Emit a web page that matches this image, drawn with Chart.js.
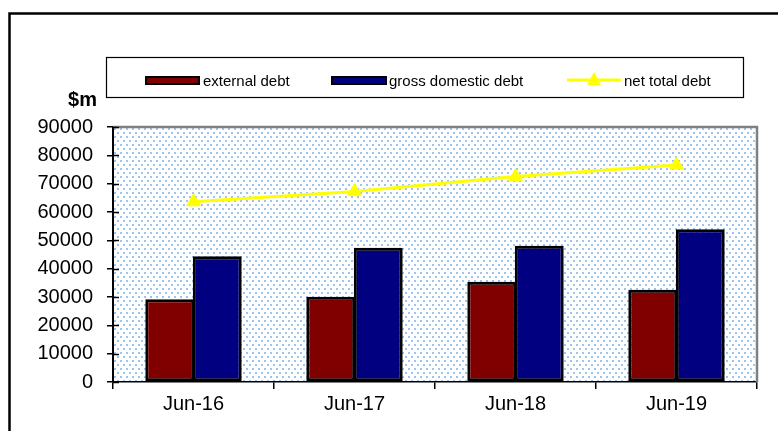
<!DOCTYPE html>
<html>
<head>
<meta charset="utf-8">
<script src="https://cdn.jsdelivr.net/npm/chart.js@4/dist/chart.umd.min.js"></script>
<style>
  html, body { margin: 0; padding: 0; background: #fff; }
  #wrap { width: 778px; height: 431px; position: relative; }
</style>
</head>
<body>
<div id="wrap"><canvas id="c" width="778" height="431"></canvas></div>
<script>
// ---- data ----
const categories = ["Jun-16", "Jun-17", "Jun-18", "Jun-19"];
const externalDebt = [29200, 30100, 35400, 32600];
const grossDomesticDebt = [44400, 47400, 48100, 53900];
const netTotalDebt = [63600, 67200, 72500, 76600];
const seriesLabels = ["external debt", "gross domestic debt", "net total debt"];
const yTickMin = 0, yTickMax = 90000, yTickStep = 10000;
const yAxisTitle = "$m";

const FONT = '"Liberation Sans", Arial, sans-serif';

function makePattern(ctx) {
  const t = document.createElement('canvas');
  t.width = 6; t.height = 8;
  const g = t.getContext('2d');
  g.fillStyle = '#ffffff';
  g.fillRect(0, 0, 6, 8);
  g.fillStyle = '#9dc3ef';
  g.fillRect(0, 0, 2, 2);
  g.fillRect(3, 4, 2, 2);
  return ctx.createPattern(t, 'repeat');
}

const decorPlugin = {
  id: 'decor',
  beforeDraw(chart) {
    const { ctx, chartArea: a } = chart;
    ctx.save();
    ctx.fillStyle = '#ffffff';
    ctx.fillRect(0, 0, chart.width, chart.height);
    ctx.fillStyle = makePattern(ctx);
    ctx.fillRect(a.left, a.top, a.right - a.left, a.bottom - a.top);
    ctx.restore();
  },
  afterDraw(chart) {
    const { ctx, chartArea: a } = chart;
    const y = chart.scales.y;
    ctx.save();
    // gray plot border (top & right)
    ctx.strokeStyle = '#808080';
    ctx.lineWidth = 2.5;
    ctx.beginPath();
    ctx.moveTo(a.left, a.top);
    ctx.lineTo(a.right, a.top);
    ctx.lineTo(a.right, a.bottom);
    ctx.stroke();
    // inner tick parts on y axis
    ctx.strokeStyle = '#000';
    ctx.lineWidth = 1.5;
    y.ticks.forEach(t => {
      const py = Math.round(y.getPixelForValue(t.value)) + 0.5;
      ctx.beginPath();
      ctx.moveTo(a.left, py);
      ctx.lineTo(a.left + 6, py);
      ctx.stroke();
    });
    // y axis title
    ctx.fillStyle = '#000';
    ctx.font = 'bold 20px ' + FONT;
    ctx.textAlign = 'right';
    ctx.textBaseline = 'alphabetic';
    ctx.fillText(yAxisTitle, 97, 106);

    // legend box
    ctx.strokeStyle = '#000';
    ctx.lineWidth = 1.2;
    ctx.strokeRect(106.5, 57.5, 637, 40);
    const ds = chart.data.datasets;
    const items = [
      { idx: 1, x0: 145, x1: 200, tx: 203 },
      { idx: 2, x0: 331, x1: 387, tx: 389 },
      { idx: 0, x0: 567, x1: 621, tx: 624 }
    ];
    ctx.font = '15px ' + FONT;
    ctx.textAlign = 'left';
    ctx.textBaseline = 'alphabetic';
    items.forEach(it => {
      const d = ds[it.idx];
      if (d.type === 'line') {
        ctx.strokeStyle = d.borderColor;
        ctx.lineWidth = 3;
        ctx.beginPath();
        ctx.moveTo(it.x0, 80);
        ctx.lineTo(it.x1, 80);
        ctx.stroke();
        const cx = (it.x0 + it.x1) / 2;
        ctx.fillStyle = d.borderColor;
        ctx.beginPath();
        ctx.moveTo(cx, 72);
        ctx.lineTo(cx + 7, 85);
        ctx.lineTo(cx - 7, 85);
        ctx.closePath();
        ctx.fill();
      } else {
        ctx.fillStyle = '#000';
        ctx.fillRect(it.x0, 76, it.x1 - it.x0, 9);
        ctx.fillStyle = d.backgroundColor;
        ctx.fillRect(it.x0 + 2, 78, it.x1 - it.x0 - 4, 5);
      }
      ctx.fillStyle = '#000';
      ctx.fillText(d.label, it.tx, 85.5);
    });

    // outer frame (left & top)
    ctx.strokeStyle = '#000';
    ctx.lineWidth = 2.5;
    ctx.beginPath();
    ctx.moveTo(9.5, chart.height + 5);
    ctx.lineTo(9.5, 13.5);
    ctx.lineTo(chart.width + 5, 13.5);
    ctx.stroke();
    ctx.restore();
  }
};

new Chart(document.getElementById('c'), {
  data: {
    labels: categories,
    datasets: [
      {
        type: 'line', label: seriesLabels[2], data: netTotalDebt, order: 0,
        borderColor: '#ffff00', backgroundColor: '#ffff00', borderWidth: 3,
        pointStyle: 'triangle', pointRadius: 8, pointBorderWidth: 1,
        pointBackgroundColor: '#ffff00', pointBorderColor: '#ffff00', tension: 0
      },
      {
        type: 'bar', label: seriesLabels[0], data: externalDebt, order: 1,
        backgroundColor: '#800000', borderColor: '#000000', borderWidth: 3,
        borderSkipped: false, categoryPercentage: 0.59, barPercentage: 1.03
      },
      {
        type: 'bar', label: seriesLabels[1], data: grossDomesticDebt, order: 1,
        backgroundColor: '#000080', borderColor: '#000000', borderWidth: 3,
        borderSkipped: false, categoryPercentage: 0.59, barPercentage: 1.03
      }
    ]
  },
  options: {
    responsive: false,
    devicePixelRatio: 1,
    animation: false,
    layout: { padding: { top: 127, right: 21, bottom: 0, left: 0 } },
    plugins: { legend: { display: false }, tooltip: { enabled: false } },
    scales: {
      x: {
        offset: true,
        grid: { display: true, drawOnChartArea: false, drawTicks: true, tickLength: 7, color: '#000', lineWidth: 1.5, offset: true },
        border: { display: true, color: '#000', width: 1.5 },
        ticks: { color: '#000', font: { family: FONT, size: 20 }, padding: 3, maxRotation: 0 },
        afterFit: s => { s.height = 49; }
      },
      y: {
        min: yTickMin, max: yTickMax,
        grid: { display: true, drawOnChartArea: false, drawTicks: true, tickLength: 6, color: '#000', lineWidth: 1.5 },
        border: { display: true, color: '#000', width: 2 },
        ticks: { stepSize: yTickStep, color: '#000', font: { family: FONT, size: 20 }, padding: 14, callback: v => String(v) },
        afterFit: s => { s.width = 113; }
      }
    }
  },
  plugins: [decorPlugin]
});
</script>
</body>
</html>
